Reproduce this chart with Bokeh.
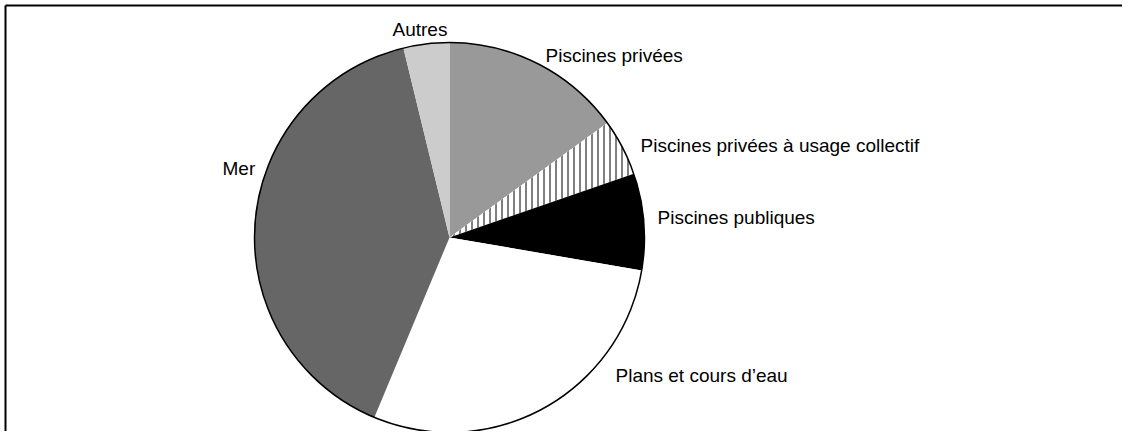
import numpy as np
from bokeh.plotting import figure
from bokeh.models import Range1d, ColumnDataSource
from bokeh.core.properties import value
from bokeh.embed import file_html
from bokeh.resources import INLINE

# ---- data ----
categories = ["Piscines privées", "Piscines privées à usage collectif", "Piscines publiques",
              "Plans et cours d'eau", "Mer", "Autres"]
labels = ["Piscines privées", "Piscines privées à usage collectif", "Piscines publiques",
          "Plans et cours d\u2019eau", "Mer", "Autres"]
shares = [15.0, 4.7, 8.0, 28.6, 39.9, 3.8]

# ---- styles / layout ----
fills = ["#999999", "#ffffff", "#000000", "#ffffff", "#666666", "#cccccc"]
hatches = [" ", "vertical_line", " ", " ", " ", " "]
W, H = 1122, 431
cx, cy, R = 449, 194, 195
# label anchor (left x, baseline y) in plot pixels
label_pos = [(545, 376), (640, 286), (657, 214), (615, 56), (222, 263), (392, 402)]

vals = np.array(shares, dtype=float)
frac = vals / vals.sum()
cum = np.concatenate([[0], np.cumsum(frac)])
start = np.pi / 2 - cum[:-1] * 2 * np.pi
end = np.pi / 2 - cum[1:] * 2 * np.pi

src = ColumnDataSource(dict(start=start, end=end, fill=fills, hatch=hatches,
                            cat=categories))

p = figure(width=W, height=H, x_range=Range1d(0, W), y_range=Range1d(0, H),
           output_backend="svg", toolbar_location=None, min_border=0,
           outline_line_color=None)
p.axis.visible = False
p.grid.visible = False
p.background_fill_color = "white"

p.wedge(x=cx, y=cy, radius=R, start_angle="start", end_angle="end", direction="clock",
        fill_color="fill", line_color=None, hatch_pattern="hatch", hatch_color="black",
        hatch_scale=6, hatch_weight=1, source=src)
p.circle(x=cx, y=cy, radius=R, fill_color=None, line_color="black", line_width=1.5)

p.text(x=[lp[0] for lp in label_pos], y=[lp[1] for lp in label_pos], text=labels,
       text_font=value("Liberation Sans"), text_font_size="19px", text_color="black",
       text_baseline="alphabetic", text_align="left")

# frame (top and left edges)
p.line(x=[5, W + 10], y=[H - 5, H - 5], line_color="black", line_width=2)
p.line(x=[5, 5], y=[-10, H - 5], line_color="black", line_width=2)

open("out.html", "w").write(file_html(p, INLINE))
